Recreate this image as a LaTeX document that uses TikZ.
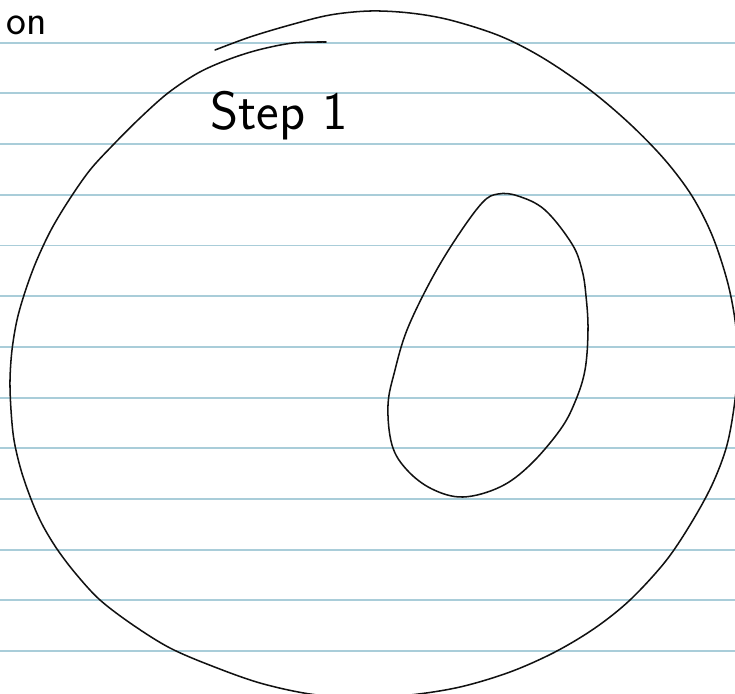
\documentclass[tikz,border=0pt]{standalone}
\usepackage{xcolor}
\definecolor{ruleblue}{HTML}{A9CDD9}
\definecolor{pen}{HTML}{111111}
\tikzset{
  rule/.style={line width=1.6pt, color=ruleblue},
  ink/.style={line width=1.3pt, color=pen, line join=round, line cap=round},
  every node/.append style={font=\sffamily}
}
\begin{document}
\begin{tikzpicture}[x=0.03cm, y=-0.03cm]
\useasboundingbox (0,0) rectangle (735,693);
\begin{scope}
\clip (0,0) rectangle (735,693);
% ruled paper
\foreach \k in {0,...,12} {\draw[rule] (0,42.7+50.7*\k) -- (735,42.7+50.7*\k);}
% big outline
\draw[ink] plot[smooth, tension=0.55] coordinates {(215,50) (250,37) (290,25) (330,15) (370,11) (410,13) (450,20) (500,36) (543,58) (590,90) (630,124) (665,160) (692,196) (712,235) (727,280) (735,320) (738,360) (735,400) (727,445) (712,485) (690,525) (665,562) (630,600) (595,628) (555,652) (510,672) (460,687) (410,695) (360,698) (310,694) (260,683) (212,666) (170,648) (133,625) (100,600) (76,574) (57,549) (42,524) (31,499) (21,470) (14,440) (11,410) (10,380) (12,350) (17,320) (25,292) (36,262) (51,230) (69,200) (90,170) (113,145) (140,118) (168,93) (198,73) (227,60) (258,50) (293,43) (326,42)};
% inner egg
\draw[ink] plot[smooth cycle, tension=0.6] coordinates {(498,194) (518,196) (545,210) (572,244) (582,270) (586,296) (588,330) (585,370) (575,402) (560,430) (530,465) (500,487) (463,497) (432,489) (407,470) (392,445) (388,405) (395,370) (407,330) (430,282) (455,240) (482,203)};
\end{scope}
% labels
\node[anchor=base west, inner sep=0pt, font=\sffamily\fontsize{36}{40}\selectfont] (corner) at (6,34) {on};
\node[anchor=base west, inner sep=0pt, font=\sffamily\fontsize{46}{50}\selectfont] (steplabel) at (210,129) {Step 1};
\end{tikzpicture}
\end{document}
